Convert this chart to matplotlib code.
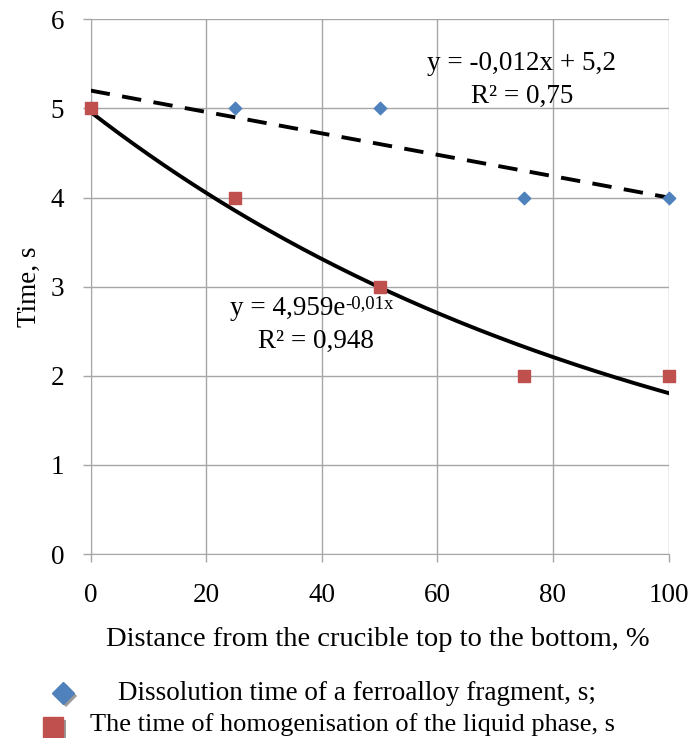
import numpy as np
import matplotlib
matplotlib.use("Agg")
import matplotlib.pyplot as plt
import matplotlib.patheffects as pe
from matplotlib.lines import Line2D

plt.rcParams['font.family'] = ['Liberation Serif', 'DejaVu Serif']

# --- data ---
distance = [0, 25, 50, 75, 100]
dissolution_time = [5, 5, 5, 4, 4]
homogenisation_time = [5, 4, 3, 2, 2]

x_ticks = [0, 20, 40, 60, 80, 100]
y_ticks = [0, 1, 2, 3, 4, 5, 6]

label_dissolution = "Dissolution time of a ferroalloy fragment, s;"
label_homog = "The time of homogenisation of the liquid phase, s"

BLUE = '#4F81BD'
RED = '#C0504D'
GRID = '#A6A6A6'
FS = 19.5

# --- trendlines (least squares, like the spreadsheet does) ---
x = np.array(distance, dtype=float)
slope, intercept = np.polyfit(x, dissolution_time, 1)
b, log_a = np.polyfit(x, np.log(homogenisation_time), 1)
a = np.exp(log_a)
xs = np.linspace(0, 100, 200)

fig = plt.figure(figsize=(6.89, 7.38), dpi=100)
ax = fig.add_axes([90.7 / 689, 1 - 554 / 738, 577.8 / 689, 534.7 / 738])

ax.plot(xs, slope * xs + intercept, color='black', lw=2.8, ls=(0, (5, 3.2)), zorder=3)
ax.plot(xs, a * np.exp(b * xs), color='black', lw=2.8, zorder=3)

ax.scatter(distance, dissolution_time, marker='D', s=40, color=BLUE, zorder=4, clip_on=False)
ax.scatter(distance, homogenisation_time, marker='s', s=74, color=RED, zorder=5, clip_on=False)

ax.set_xlim(0, 100)
ax.set_ylim(0, 6)
ax.set_xticks(x_ticks)
ax.set_yticks(y_ticks)
ax.grid(True, color=GRID, lw=1.0)
ax.set_axisbelow(True)
for side in ['top', 'right']:
    ax.spines[side].set_visible(False)
for side in ['left', 'bottom']:
    ax.spines[side].set_color(GRID)
ax.tick_params(colors=GRID, labelcolor='black', labelsize=FS, length=6, width=1.0)
ax.tick_params(axis='x', pad=15)
ax.tick_params(axis='y', pad=13)

ax.set_xlabel("Distance from the crucible top to the bottom, %", fontsize=20.5)
ax.set_ylabel("Time, s", fontsize=FS)
ax.xaxis.set_label_coords(0.4965, -0.136)
ax.yaxis.set_label_coords(-0.084, 0.5)

# equation labels of the trendlines
ax.text(74.6, 5.433, "y = -0,012x + 5,2", fontsize=FS, ha='center', va='baseline')
ax.text(74.65, 5.062, "R² = 0,75", fontsize=FS, ha='center', va='baseline')
eq = ax.text(24.05, 2.68, "y = 4,959e", fontsize=FS, ha='left', va='baseline')
ax.annotate("-0,01x", xy=(1, 0), xycoords=eq, xytext=(0.5, 9.5), textcoords='offset points',
            fontsize=13.5, ha='left', va='baseline')
ax.text(38.98, 2.309, "R² = 0,948", fontsize=FS, ha='center', va='baseline')

# legend below the plot
shadow = [pe.SimplePatchShadow(offset=(2, -2), shadow_rgbFace='#9A9A9A', alpha=1.0), pe.Normal()]
fig.add_artist(Line2D([63 / 689], [1 - 693 / 738], marker='D', ms=11.5, color=BLUE, ls='none',
                      transform=fig.transFigure, path_effects=shadow))
fig.add_artist(Line2D([53 / 689], [1 - 727 / 738], marker='s', ms=14, color=RED, ls='none',
                      transform=fig.transFigure, path_effects=shadow))
fig.text(118 / 689, 1 - 700 / 738, label_dissolution, fontsize=FS, ha='left', va='baseline')
fig.text(90 / 689, 1 - 731 / 738, label_homog, fontsize=19, ha='left', va='baseline')

fig.savefig("out.png", dpi=100)
